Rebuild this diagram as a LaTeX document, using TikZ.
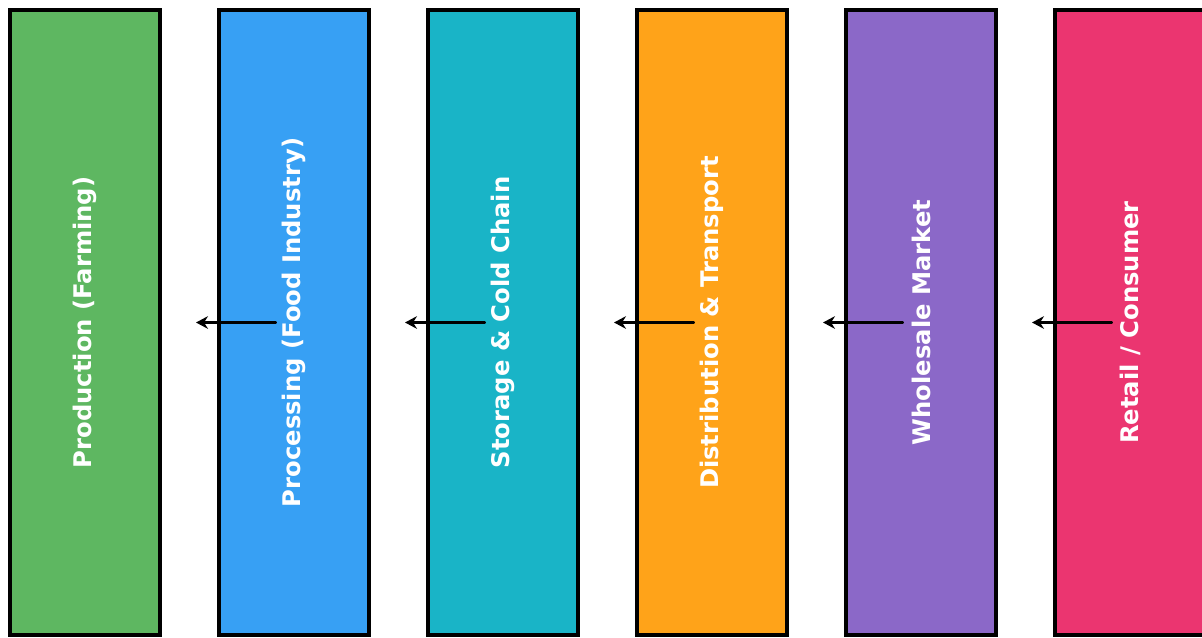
\documentclass[tikz,border=0pt]{standalone}
\usepackage{fontspec}
\setmainfont{DejaVu Sans}
\usetikzlibrary{arrows.meta}
\definecolor{cgreen}{RGB}{94,183,97}
\definecolor{cblue}{RGB}{55,160,244}
\definecolor{cteal}{RGB}{25,180,199}
\definecolor{corange}{RGB}{255,163,25}
\definecolor{cpurple}{RGB}{139,104,200}
\definecolor{cpink}{RGB}{235,53,112}
\tikzset{
  stage/.style={draw=black, line width=2.6pt, rectangle, outer sep=0pt, inner sep=0pt,
    minimum width=112.5pt, minimum height=468.75pt, anchor=north west,
    text=white, font=\fontsize{18.2}{22}\selectfont\bfseries},
  arr/.style={-{Stealth[length=9pt,width=9.5pt,inset=3pt]}, line width=2.9pt, line cap=round, black}
}
\begin{document}
\begin{tikzpicture}[x=0.75pt,y=-0.75pt]
\useasboundingbox (0,0) rectangle (1202,637);
\clip (0,0) rectangle (1202,637);
\fill[white] (0,0) rectangle (1202,637);
\node[stage, fill=cgreen]  (b1) at (10,10)   {\rotatebox{90}{Production (Farming)}};
\node[stage, fill=cblue]   (b2) at (219,10)  {\rotatebox{90}{Processing (Food Industry)}};
\node[stage, fill=cteal]   (b3) at (428,10)  {\rotatebox{90}{Storage \& Cold Chain}};
\node[stage, fill=corange] (b4) at (637,10)  {\rotatebox{90}{Distribution \& Transport}};
\node[stage, fill=cpurple] (b5) at (846,10)  {\rotatebox{90}{Wholesale Market}};
\node[stage, fill=cpink]   (b6) at (1055,10) {\rotatebox{90}{Retail / Consumer}};
\draw[arr] ([xshift=42pt]b2.west) -- ([xshift=27pt]b1.east);
\draw[arr] ([xshift=42pt]b3.west) -- ([xshift=27pt]b2.east);
\draw[arr] ([xshift=42pt]b4.west) -- ([xshift=27pt]b3.east);
\draw[arr] ([xshift=42pt]b5.west) -- ([xshift=27pt]b4.east);
\draw[arr] ([xshift=42pt]b6.west) -- ([xshift=27pt]b5.east);
\end{tikzpicture}
\end{document}
